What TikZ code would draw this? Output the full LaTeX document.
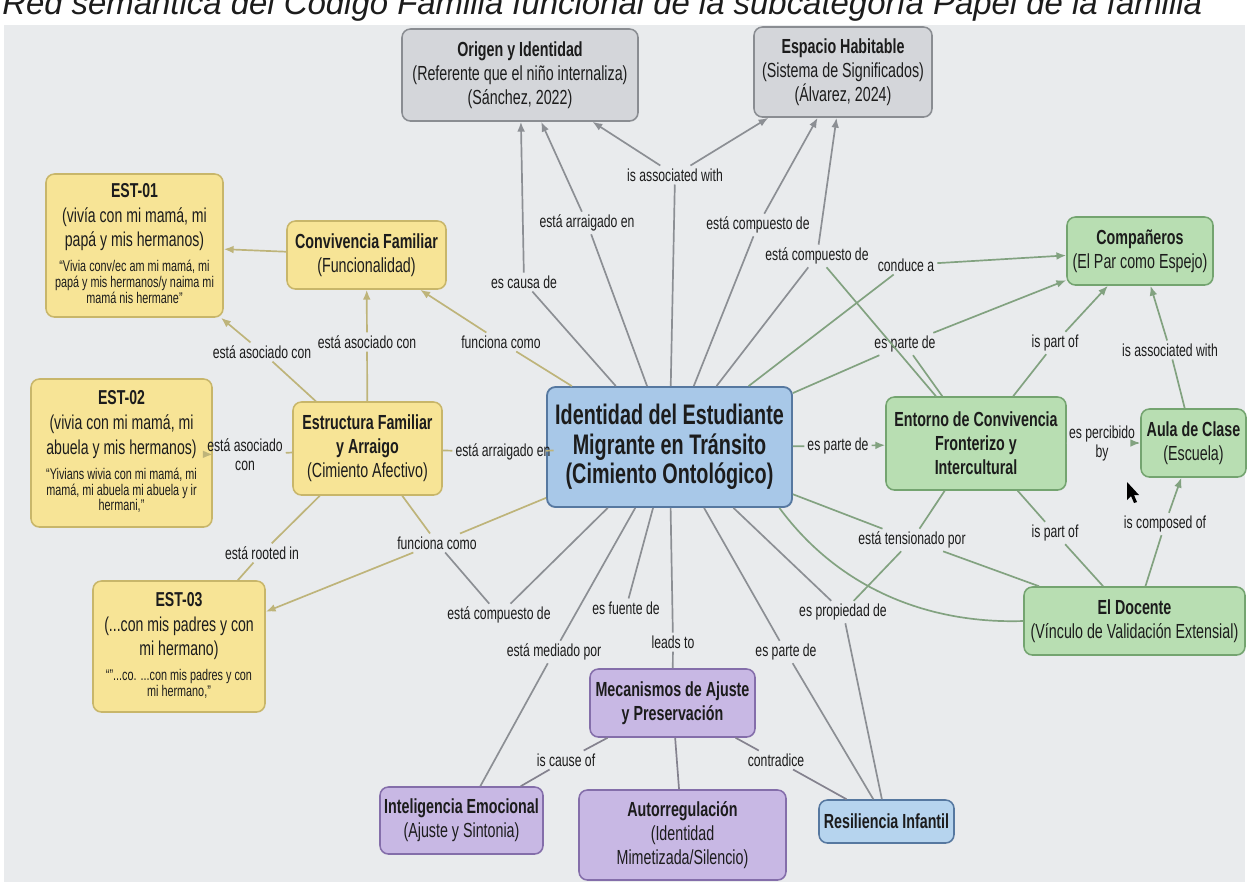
\documentclass[tikz,border=0pt]{standalone}
\usepackage{fontspec}
\setmainfont{Liberation Sans}[FakeStretch=0.70]
\newfontfamily\titlefont{Liberation Sans}
\usetikzlibrary{arrows.meta,positioning,calc}
\definecolor{panelbg}{RGB}{233,235,237}
\definecolor{greyfill}{RGB}{212,214,218}
\definecolor{greydraw}{RGB}{138,141,146}
\definecolor{yellowfill}{RGB}{247,228,150}
\definecolor{yellowdraw}{RGB}{200,182,106}
\definecolor{bluefill}{RGB}{168,200,232}
\definecolor{bluedraw}{RGB}{86,120,160}
\definecolor{resilfill}{RGB}{182,212,238}
\definecolor{greenfill}{RGB}{184,222,178}
\definecolor{greendraw}{RGB}{116,164,112}
\definecolor{purplefill}{RGB}{200,184,228}
\definecolor{purpledraw}{RGB}{132,110,170}
\definecolor{txtcol}{RGB}{28,28,28}
\definecolor{greyline}{RGB}{140,143,148}
\definecolor{greenline}{RGB}{130,162,128}
\definecolor{yelline}{RGB}{190,180,122}
\definecolor{purpline}{RGB}{132,130,142}
\def\px{0.025cm}
\newcommand{\nodefont}{\fontsize{14.5}{17}\selectfont}
\newcommand{\lblfont}{\fontsize{12.4}{13.5}\selectfont}
\newcommand{\ctrfont}{\fontsize{20.1}{20}\selectfont\bfseries}
\newcommand{\estfont}{\fontsize{14.3}{17.6}\selectfont}
\newcommand{\quotelines}[1]{{\fontsize{11}{10.5}\selectfont\begin{tabular}[t]{@{}c@{}}#1\end{tabular}}}
\tikzset{
  box/.style={rectangle, rounded corners=6pt, line width=1.1pt, align=center,
    text=txtcol, inner sep=2pt, font=\nodefont},
  boxsize/.style 2 args={minimum width=#1*\px, minimum height=#2*\px},
  greybox/.style={box, fill=greyfill, draw=greydraw},
  yellowbox/.style={box, fill=yellowfill, draw=yellowdraw},
  estbox/.style={yellowbox, font=\estfont},
  bluebox/.style={box, fill=bluefill, draw=bluedraw},
  greenbox/.style={box, fill=greenfill, draw=greendraw},
  purplebox/.style={box, fill=purplefill, draw=purpledraw},
  lbl/.style={inner sep=2pt, font=\lblfont, text=txtcol, align=center},
  link/.style={line width=1.2pt},
  arr/.style={-{Latex[length=7pt,width=5.5pt]}}
}

\begin{document}
\begin{tikzpicture}[x=\px, y=-\px]
\useasboundingbox (0,0) rectangle (1248,884);
\fill[white] (0,0) rectangle (1248,884);
\fill[panelbg] (4,25) rectangle (1245,882);
\node[anchor=base west, inner sep=0pt, text=txtcol,
  font=\titlefont\fontsize{23.4}{26}\selectfont\itshape] (title) at (2,14)
  {Red semántica del Código Familia funcional de la subcategoría Papel de la familia};

%% top (grey)
\node[greybox, boxsize={236}{92}] (orig) at (520,75)
  {\textbf{Origen y Identidad}\\(Referente que el niño internaliza)\\(Sánchez, 2022)};
\node[greybox, boxsize={178}{90}] (esp) at (843,72)
  {\textbf{Espacio Habitable}\\(Sistema de Significados)\\(Álvarez, 2024)};

%% left (yellow)
\node[estbox, boxsize={177}{143}] (est1) at (134.5,245.5)
  {\textbf{EST-01}\\(vivía con mi mamá, mi\\papá y mis hermanos)\\
   \quotelines{“Vivia conv/ec am mi mamá, mi\\papá y mis hermanos/y naima mi\\mamá nis hermane”}};
\node[yellowbox, boxsize={159}{68}] (conv) at (366.5,255)
  {\textbf{Convivencia Familiar}\\(Funcionalidad)};
\node[estbox, boxsize={181}{148}] (est2) at (121.5,453)
  {\textbf{EST-02}\\(vivia con mi mamá, mi\\abuela y mis hermanos)\\
   \quotelines{“Yivians wivia con mi mamá, mi\\mamá, mi abuela mi abuela y ir\\hermani,”}};
\node[yellowbox, boxsize={149}{93}] (estr) at (367.5,448.5)
  {\textbf{Estructura Familiar}\\\textbf{y Arraigo}\\(Cimiento Afectivo)};
\node[estbox, boxsize={172}{131}] (est3) at (179,646.5)
  {\textbf{EST-03}\\(...con mis padres y con\\mi hermano)\\
   \quotelines{“”...co. ...con mis padres y con\\mi hermano,”}};

%% centre
\node[bluebox, boxsize={245}{120}, font=\ctrfont, line width=1.3pt] (ctr) at (669.5,447)
  {Identidad del Estudiante\\[1pt]Migrante en Tránsito\\[1pt](Cimiento Ontológico)};

%% right (green)
\node[greenbox, boxsize={146}{68}] (comp) at (1140,251)
  {\textbf{Compañeros}\\(El Par como Espejo)};
\node[greenbox, boxsize={180}{93}] (ent) at (976,443.5)
  {\textbf{Entorno de Convivencia}\\\textbf{Fronterizo y}\\\textbf{Intercultural}};
\node[greenbox, boxsize={105}{68}] (aula) at (1193.5,443)
  {\textbf{Aula de Clase}\\(Escuela)};
\node[greenbox, boxsize={221}{68}] (doc) at (1134.5,621)
  {\textbf{El Docente}\\(Vínculo de Validación Extensial)};

%% bottom (purple)
\node[purplebox, boxsize={165}{68}] (mec) at (672.5,703)
  {\textbf{Mecanismos de Ajuste}\\\textbf{y Preservación}};
\node[purplebox, boxsize={163}{67}] (intel) at (461.5,820.5)
  {\textbf{Inteligencia Emocional}\\(Ajuste y Sintonia)};
\node[purplebox, boxsize={207}{90}] (auto) at (682.5,835)
  {\textbf{Autorregulación}\\(Identidad\\Mimetizada/Silencio)};
\node[box, fill=resilfill, draw=bluedraw, boxsize={135}{43}] (resil) at (886.5,821.5)
  {\textbf{Resiliencia Infantil}};

%% link labels
\node[lbl] (l1) at (524,282) {es causa de};
\node[lbl] (l2) at (587,223) {está arraigado en};
\node[lbl] (l3) at (675,175) {is associated with};
\node[lbl] (l4) at (758,225) {está compuesto de};
\node[lbl] (l5) at (817,256) {está compuesto de};
\node[lbl] (l6) at (906,265) {conduce a};
\node[lbl] (l7) at (905,344) {es parte de};
\node[lbl] (l8) at (1055,343) {is part of};
\node[lbl] (l9) at (1170,350) {is associated with};
\node[lbl] (l10) at (838,446) {es parte de};
\node[lbl] (l11) at (1102,443) {es percibido\\by};
\node[lbl] (l12) at (1165,524) {is composed of};
\node[lbl] (l13) at (1055,533) {is part of};
\node[lbl] (l14) at (912,540) {está tensionado por};
\node[lbl] (l15) at (843,612) {es propiedad de};
\node[lbl] (l16) at (786,652) {es parte de};
\node[lbl] (l17) at (673,642) {leads to};
\node[lbl] (l18) at (626,608) {es fuente de};
\node[lbl] (l19) at (554,652) {está mediado por};
\node[lbl] (l20) at (499,615) {está compuesto de};
\node[lbl] (l21) at (437,543) {funciona como};
\node[lbl] (l22) at (262,553) {está rooted in};
\node[lbl] (l23) at (245,455) {está asociado\\con};
\node[lbl] (l24) at (503,452) {está arraigado en};
\node[lbl] (l25) at (262,352) {está asociado con};
\node[lbl] (l26) at (367,342) {está asociado con};
\node[lbl] (l27) at (501,342) {funciona como};
\node[lbl] (l28) at (566,760) {is cause of};
\node[lbl] (l29) at (776,760) {contradice};

%% links
\begin{scope}[link]
  \draw[greyline,arr] (ctr) -- (l1) -- (orig);
  \draw[greyline,arr] (ctr) -- (l2) -- (orig);
  \draw[greyline] (ctr) -- (l3);
  \draw[greyline,arr] (l3) -- (orig);
  \draw[greyline,arr] (l3) -- (esp);
  \draw[greyline,arr] (ctr) -- (l4) -- (esp);
  \draw[greyline,arr] (ctr) -- (l5) -- (esp);
  \draw[greenline] (ent) -- (l5);

  \draw[greenline,arr] (ctr) -- (l6) -- (comp);
  \draw[greenline,arr] (ctr) -- (l7) -- (comp);
  \draw[greenline] (ent) -- (l7);
  \draw[greenline,arr] (ent) -- (l8) -- (comp);
  \draw[greenline,arr] (aula) -- (l9) -- (comp);
  \draw[greenline,arr] (ctr) -- (l10) -- (ent);
  \draw[greenline,arr] (ent) -- (l11) -- (aula);
  \draw[greenline,arr] (doc) -- (l12) -- (aula);
  \draw[greenline] (ent) -- (l13) -- (doc);
  \draw[greenline] (ctr) -- (l14) -- (doc);
  \draw[greenline] (ent) -- (l14);
  \draw[greenline] (l14) -- (l15);
  \draw[greenline] (ctr.-29) .. controls (840,590) and (930,624) .. (doc.west);

  \draw[greyline] (ctr) -- (l15) -- (resil);
  \draw[greyline] (ctr) -- (l16) -- (resil);
  \draw[greyline] (ctr) -- (l17) -- (mec);
  \draw[greyline] (ctr) -- (l18);
  \draw[greyline] (ctr) -- (l19) -- (intel);
  \draw[greyline] (ctr) -- (l20) -- (l21);
  \draw[purpline] (mec) -- (l28) -- (intel);
  \draw[purpline] (mec) -- (auto);
  \draw[purpline] (mec) -- (l29) -- (resil);

  \draw[yelline,arr] (ctr) -- (l21) -- (est3);
  \draw[yelline] (estr) -- (l21);
  \draw[yelline] (estr) -- (l22) -- (est3);
  \draw[yelline,arr] (estr) -- (l23) -- (est2);
  \draw[yelline] (ctr) -- (l24) -- (estr);
  \draw[yelline,arr] (estr) -- (l25) -- (est1);
  \draw[yelline,arr] (estr) -- (l26) -- (conv);
  \draw[yelline,arr] (ctr) -- (l27) -- (conv);
  \draw[yelline,arr] (conv) -- (est1);
\end{scope}

%% pointer
\fill[black] (1127,482) -- (1127,500) -- (1131,496) -- (1134,503) -- (1137,502)
  -- (1134,495) -- (1139,495) -- cycle;
\end{tikzpicture}
\end{document}
